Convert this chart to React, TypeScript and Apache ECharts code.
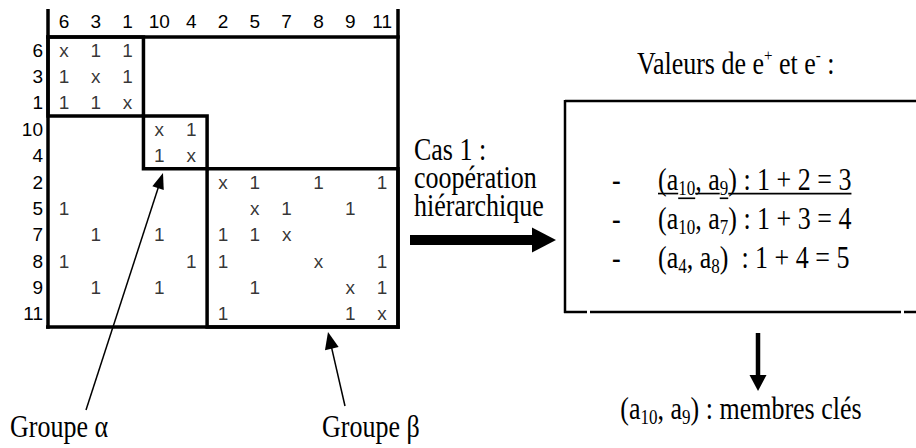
import React, { useEffect, useRef } from 'react';
import * as echarts from 'echarts';

// ---- matrix data ----
const COLS = ['6', '3', '1', '10', '4', '2', '5', '7', '8', '9', '11'];
const ROWS = ['6', '3', '1', '10', '4', '2', '5', '7', '8', '9', '11'];
const CELLS: string[][] = [
  ['x', '1', '1', '', '', '', '', '', '', '', ''],
  ['1', 'x', '1', '', '', '', '', '', '', '', ''],
  ['1', '1', 'x', '', '', '', '', '', '', '', ''],
  ['', '', '', 'x', '1', '', '', '', '', '', ''],
  ['', '', '', '1', 'x', '', '', '', '', '', ''],
  ['', '', '', '', '', 'x', '1', '', '1', '', '1'],
  ['1', '', '', '', '', '', 'x', '1', '', '1', ''],
  ['', '1', '', '1', '', '1', '1', 'x', '', '', ''],
  ['1', '', '', '', '1', '1', '', '', 'x', '', '1'],
  ['', '1', '', '1', '', '', '1', '', '', 'x', '1'],
  ['', '', '', '', '', '1', '', '', '', '1', 'x'],
];
// diagonal blocks (start index, end index)
const BLOCKS: [number, number][] = [[0, 3], [3, 5], [5, 11]];

// ---- right side texts ----
const PAIRS = [
  { a: '10', b: '9', sep: ' ', sum: '1 + 2 = 3', key: true },
  { a: '10', b: '7', sep: ' ', sum: '1 + 3 = 4', key: false },
  { a: '4', b: '8', sep: '  ', sum: '1 + 4 = 5', key: false },
];
const CASE_LINES = ['Cas 1 :', 'coopération', 'hiérarchique'];
const KEY_MEMBERS = { a: '10', b: '9', label: 'membres clés' };
const GROUP_LABELS = ['Groupe α', 'Groupe β'];

const SANS = 'Liberation Sans, Arial, sans-serif';
const SERIF = 'Liberation Serif, Times New Roman, serif';
const FS = 26;
const SUB = 17;
const SY = 1.18;
const MFS = 19;

const rich: any = {
  n: { fontSize: FS, fontFamily: SERIF, lineHeight: 30, verticalAlign: 'middle', fill: '#000' },
  s: { fontSize: SUB, fontFamily: SERIF, lineHeight: SUB, verticalAlign: 'bottom', fill: '#000' },
  p: { fontSize: 15, fontFamily: SERIF, lineHeight: 15, verticalAlign: 'top', fill: '#000' },
};

function measure(text: string, size: number) {
  const c = document.createElement('canvas').getContext('2d')!;
  c.font = `${size}px "Liberation Serif"`;
  return c.measureText(text).width;
}

function txt(x: number, y: number, text: string, align = 'left', children: any[] = []) {
  return {
    type: 'group',
    x,
    y,
    scaleY: SY,
    silent: true,
    children: [
      {
        type: 'text',
        x: 0,
        y: 0,
        style: { text, rich, align, verticalAlign: 'middle', fontSize: FS, fontFamily: SERIF, fill: '#000' },
      },
      ...children,
    ],
  };
}

function arrow(x1: number, y1: number, x2: number, y2: number, w: number, headLen: number, headW: number) {
  const dx = x2 - x1;
  const dy = y2 - y1;
  const L = Math.hypot(dx, dy);
  const ux = dx / L;
  const uy = dy / L;
  const nx = -uy;
  const ny = ux;
  const bx = x2 - ux * headLen;
  const by = y2 - uy * headLen;
  return [
    { type: 'line', silent: true, shape: { x1, y1, x2: bx + ux, y2: by + uy }, style: { stroke: '#000', lineWidth: w } },
    {
      type: 'polygon',
      silent: true,
      shape: {
        points: [
          [x2, y2],
          [bx + (nx * headW) / 2, by + (ny * headW) / 2],
          [bx - (nx * headW) / 2, by - (ny * headW) / 2],
        ],
      },
      style: { fill: '#000' },
    },
  ];
}

function pairText(p: { a: string; b: string; sep: string; sum: string }) {
  return `{n|(a}{s|${p.a}}{n|, a}{s|${p.b}}{n|)${p.sep}: ${p.sum}}`;
}

export default function App() {
  const ref = useRef<HTMLDivElement>(null);
  useEffect(() => {
    if (!ref.current) return;
    const chart = echarts.init(ref.current, undefined, { renderer: 'svg' });

    const cellData: any[] = [];
    CELLS.forEach((row, ri) =>
      row.forEach((v, ci) => {
        if (v) cellData.push({ value: [ci, ri], name: v });
      })
    );

    const n = COLS.length;
    const frames: number[][][] = [
      [[-1, 0], [n, 0]],
      [[-1, n], [n, n]],
      [[0, -1], [0, n]],
      [[n, -1], [n, n]],
      ...BLOCKS.map(([a, b]) => [[a, a], [b, a], [b, b], [a, b], [a, a]]),
    ];

    const lineSeries = frames.map((pts) => ({
      type: 'line',
      xAxisIndex: 1,
      yAxisIndex: 1,
      data: pts,
      symbol: 'none',
      clip: false,
      silent: true,
      lineStyle: { color: '#000', width: 3.5, cap: 'square', join: 'miter' },
    }));

    // underline for key pair (item 1)
    const key = PAIRS[0];
    const w1 = measure('(a', FS);
    const ws1 = measure(key.a, SUB);
    const w2 = measure(', a', FS);
    const ws2 = measure(key.b, SUB);
    const w3 = measure(`)${key.sep}: ${key.sum}`, FS);
    const ul = (xa: number, xb: number, yy: number) => ({
      type: 'line',
      shape: { x1: xa, y1: yy, x2: xb, y2: yy },
      style: { stroke: '#000', lineWidth: 1.4 },
    });
    let cx = 0;
    const underline: any[] = [];
    [[w1, 11.5], [ws1, 15.5], [w2, 11.5], [ws2, 15.5], [w3, 11.5]].forEach(([w, yy]) => {
      underline.push(ul(cx, cx + w, yy));
      cx += w;
    });

    const itemYs = [180, 219, 258];
    const graphic: any[] = [
      // arrows from group labels
      ...arrow(86, 410, 163, 173, 1.5, 16, 12),
      ...arrow(345, 406, 328, 332, 1.5, 17, 14),
      // big right arrow
      ...arrow(410, 240, 556, 240, 10, 24, 25),
      // down arrow
      ...arrow(758, 333, 758, 391, 4.5, 16, 17),
      // right box
      { type: 'line', silent: true, shape: { x1: 565, y1: 101, x2: 916, y2: 101 }, style: { stroke: '#000', lineWidth: 2.5 } },
      { type: 'line', silent: true, shape: { x1: 565, y1: 100, x2: 565, y2: 313 }, style: { stroke: '#000', lineWidth: 2.5 } },
      { type: 'line', silent: true, shape: { x1: 564, y1: 312, x2: 587, y2: 312 }, style: { stroke: '#000', lineWidth: 2.5 } },
      { type: 'line', silent: true, shape: { x1: 590, y1: 312, x2: 901, y2: 312 }, style: { stroke: '#000', lineWidth: 2.5 } },
      { type: 'line', silent: true, shape: { x1: 904, y1: 312, x2: 916, y2: 312 }, style: { stroke: '#000', lineWidth: 2.5 } },
      // texts
      txt(10, 427, `{n|${GROUP_LABELS[0]}}`),
      txt(322, 427, `{n|${GROUP_LABELS[1]}}`),
      ...CASE_LINES.map((s, i) => txt(414, 150 + i * 28, `{n|${s}}`)),
      txt(637, 64, '{n|Valeurs de e}{p|+}{n| et e}{p|-}{n| :}'),
      ...PAIRS.map((p, i) => txt(612, itemYs[i], '{n|-}')),
      ...PAIRS.map((p, i) => txt(658, itemYs[i], pairText(p), 'left', p.key ? underline : [])),
      txt(741, 409, `{n|(a}{s|${KEY_MEMBERS.a}}{n|, a}{s|${KEY_MEMBERS.b}}{n|) : ${KEY_MEMBERS.label}}`, 'center'),
    ];

    const axisLabel = { interval: 0, margin: 6, fontSize: MFS, fontFamily: SANS, color: '#000' };

    chart.setOption({
      animation: false,
      grid: { left: 48, top: 37, width: 350, height: 290, containLabel: false },
      xAxis: [
        {
          type: 'category',
          data: COLS,
          position: 'top',
          axisLine: { show: false },
          axisTick: { show: false },
          splitLine: { show: false },
          axisLabel: { ...axisLabel },
        },
        { type: 'value', min: 0, max: n, show: false, splitLine: { show: false } },
      ],
      yAxis: [
        {
          type: 'category',
          data: ROWS,
          inverse: true,
          axisLine: { show: false },
          axisTick: { show: false },
          splitLine: { show: false },
          axisLabel: { ...axisLabel, margin: 5 },
        },
        { type: 'value', min: 0, max: n, inverse: true, show: false, splitLine: { show: false } },
      ],
      series: [
        {
          type: 'scatter',
          xAxisIndex: 0,
          yAxisIndex: 0,
          data: cellData,
          symbolSize: 2,
          silent: true,
          itemStyle: { color: 'rgba(0,0,0,0)' },
          label: {
            show: true,
            position: 'inside',
            formatter: '{b}',
            fontSize: MFS,
            fontFamily: SANS,
            color: '#000',
          },
          labelLayout: { hideOverlap: false },
        },
        ...lineSeries,
      ],
      graphic,
    });

    return () => chart.dispose();
  }, []);

  return (
    <div
      ref={ref}
      style={{ position: 'fixed', left: 0, top: 0, width: 916, height: 448, background: '#fff' }}
    />
  );
}
